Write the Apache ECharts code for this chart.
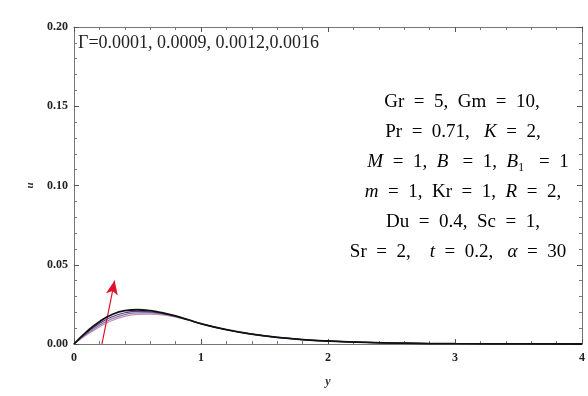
<!DOCTYPE html>
<html>
<head>
<meta charset="utf-8">
<script src="https://cdn.jsdelivr.net/npm/echarts@6/dist/echarts.min.js"></script>
<style>
  html, body { margin: 0; padding: 0; background: #fff; }
  #chart { width: 588px; height: 396px; }
</style>
</head>
<body>
<div id="chart"></div>
<script>
// sample points along y
const yPoints = [0, 0.1, 0.2, 0.3, 0.4, 0.5, 0.6, 0.7, 0.8, 0.9, 1.0, 1.2, 1.4, 1.6, 1.8, 2.0, 2.3, 2.6, 3.0, 3.5, 4.0];

// u for each Gamma value
const uGamma1 = [0, 0.0058, 0.0108, 0.0148, 0.0174, 0.0187, 0.0189, 0.0183, 0.0170, 0.0150, 0.0128, 0.0090, 0.0062, 0.0042, 0.0028, 0.0019, 0.0010, 0.0005, 0.0002, 0.0001, 0];
const uGamma2 = [0, 0.0064, 0.0118, 0.0159, 0.0185, 0.0197, 0.0197, 0.0189, 0.0173, 0.0152, 0.0128, 0.0090, 0.0062, 0.0042, 0.0028, 0.0019, 0.0010, 0.0005, 0.0002, 0.0001, 0];
const uGamma3 = [0, 0.0071, 0.0130, 0.0172, 0.0197, 0.0206, 0.0203, 0.0192, 0.0175, 0.0153, 0.0128, 0.0090, 0.0062, 0.0042, 0.0028, 0.0019, 0.0010, 0.0005, 0.0002, 0.0001, 0];
const uGamma4 = [0, 0.0078, 0.0141, 0.0186, 0.0210, 0.0216, 0.0210, 0.0196, 0.0177, 0.0153, 0.0128, 0.0090, 0.0062, 0.0042, 0.0028, 0.0019, 0.0010, 0.0005, 0.0002, 0.0001, 0];

const xTicks = [0, 1, 2, 3, 4];
const yTicks = [0, 0.05, 0.1, 0.15, 0.2];

// arrow showing increasing Gamma
const arrowStart = [0.22, 0];
const arrowEnd = [0.32, 0.040];

const seriesColors = ['#d68aa8', '#7a7ab8', '#5a3c80', '#111111'];

const paramLines = [
  '{n|Gr  =  5,  Gm  =  10,}',
  '{n|Pr  =  0.71,   }{i|K}{n|  =  2,}',
  '{i|M}{n|  =  1,  }{i|B}{n|   =  1,  }{i|B}{n|₁   =  1}',
  '{i|m}{n|  =  1,  Kr  =  1,  }{i|R}{n|  =  2,}',
  '{n|Du  =  0.4,  Sc  =  1,}',
  '{n|Sr  =  2,    }{i|t}{n|  =  0.2,   }{i|α}{n|  =  30}',
];
const paramCenters = [462, 463, 468, 463, 463, 458];

const chart = echarts.init(document.getElementById('chart'));

const serif = 'Liberation Serif, Times New Roman, serif';
const tickColor = '#777';

const pairs = (ys) => yPoints.map((x, i) => [x, ys[i]]);

const lineSeries = [uGamma1, uGamma2, uGamma3, uGamma4].map((ys, i) => ({
  type: 'line',
  data: pairs(ys),
  smooth: true,
  showSymbol: false,
  lineStyle: { width: i === 3 ? 1.8 : 1.2, color: seriesColors[i] },
  z: 3 + i,
}));

lineSeries[0].markLine = {
  silent: true,
  symbol: ['none', 'arrow'],
  symbolSize: [9, 14],
  label: { show: false },
  lineStyle: { color: '#e0102a', width: 1.2, type: 'solid' },
  data: [[{ coord: arrowStart }, { coord: arrowEnd }]],
};

const baseAxisLine = { show: true, onZero: false, lineStyle: { color: tickColor, width: 1 } };
const baseTick = { inside: true, length: 5, lineStyle: { color: '#555' } };
const baseMinor = { show: true, splitNumber: 5, length: 3, lineStyle: { color: '#777' } };

const paramGraphics = paramLines.map((t, i) => ({
  type: 'text',
  x: paramCenters[i],
  y: 102 + i * 30,
  style: {
    text: t,
    align: 'center',
    verticalAlign: 'middle',
    rich: {
      n: { fontFamily: serif, fontSize: 19, color: '#222' },
      i: { fontFamily: serif, fontSize: 19, fontStyle: 'italic', color: '#222' },
    },
  },
}));

chart.setOption({
  animation: false,
  backgroundColor: '#fff',
  grid: { left: 74, right: 2, top: 27, bottom: 52 },
  xAxis: [
    {
      type: 'value',
      min: 0,
      max: 4,
      interval: 1,
      name: 'y',
      nameLocation: 'middle',
      nameGap: 32,
      nameTextStyle: { fontFamily: serif, fontStyle: 'italic', fontWeight: 'bold', fontSize: 12, color: '#333' },
      axisLine: baseAxisLine,
      axisTick: baseTick,
      minorTick: baseMinor,
      axisLabel: {
        fontFamily: serif, fontWeight: 'bold', fontSize: 12, color: '#222', margin: 8,
        formatter: (v) => (xTicks.includes(v) ? String(v) : ''),
      },
      splitLine: { show: false },
    },
    {
      type: 'value',
      position: 'top',
      min: 0,
      max: 4,
      interval: 1,
      axisLine: baseAxisLine,
      axisTick: baseTick,
      minorTick: baseMinor,
      axisLabel: { show: false },
      splitLine: { show: false },
    },
  ],
  yAxis: [
    {
      type: 'value',
      min: 0,
      max: 0.2,
      interval: 0.05,
      name: 'u',
      nameLocation: 'middle',
      nameGap: 38,
      nameRotate: 90,
      nameTextStyle: { fontFamily: serif, fontStyle: 'italic', fontWeight: 'bold', fontSize: 11, color: '#333' },
      axisLine: baseAxisLine,
      axisTick: baseTick,
      minorTick: baseMinor,
      axisLabel: {
        fontFamily: serif, fontWeight: 'bold', fontSize: 12, color: '#222', margin: 6,
        formatter: (v) => (yTicks.some((t) => Math.abs(t - v) < 1e-9) ? v.toFixed(2) : ''),
      },
      splitLine: { show: false },
    },
    {
      type: 'value',
      position: 'right',
      min: 0,
      max: 0.2,
      interval: 0.05,
      axisLine: baseAxisLine,
      axisTick: baseTick,
      minorTick: baseMinor,
      axisLabel: { show: false },
      splitLine: { show: false },
    },
  ],
  graphic: [
    {
      type: 'text',
      x: 78,
      y: 43,
      style: { text: 'Γ=0.0001, 0.0009, 0.0012,0.0016', font: '18px ' + serif, fill: '#222', verticalAlign: 'middle' },
    },
  ].concat(paramGraphics),
  series: lineSeries,
});
</script>
</body>
</html>
